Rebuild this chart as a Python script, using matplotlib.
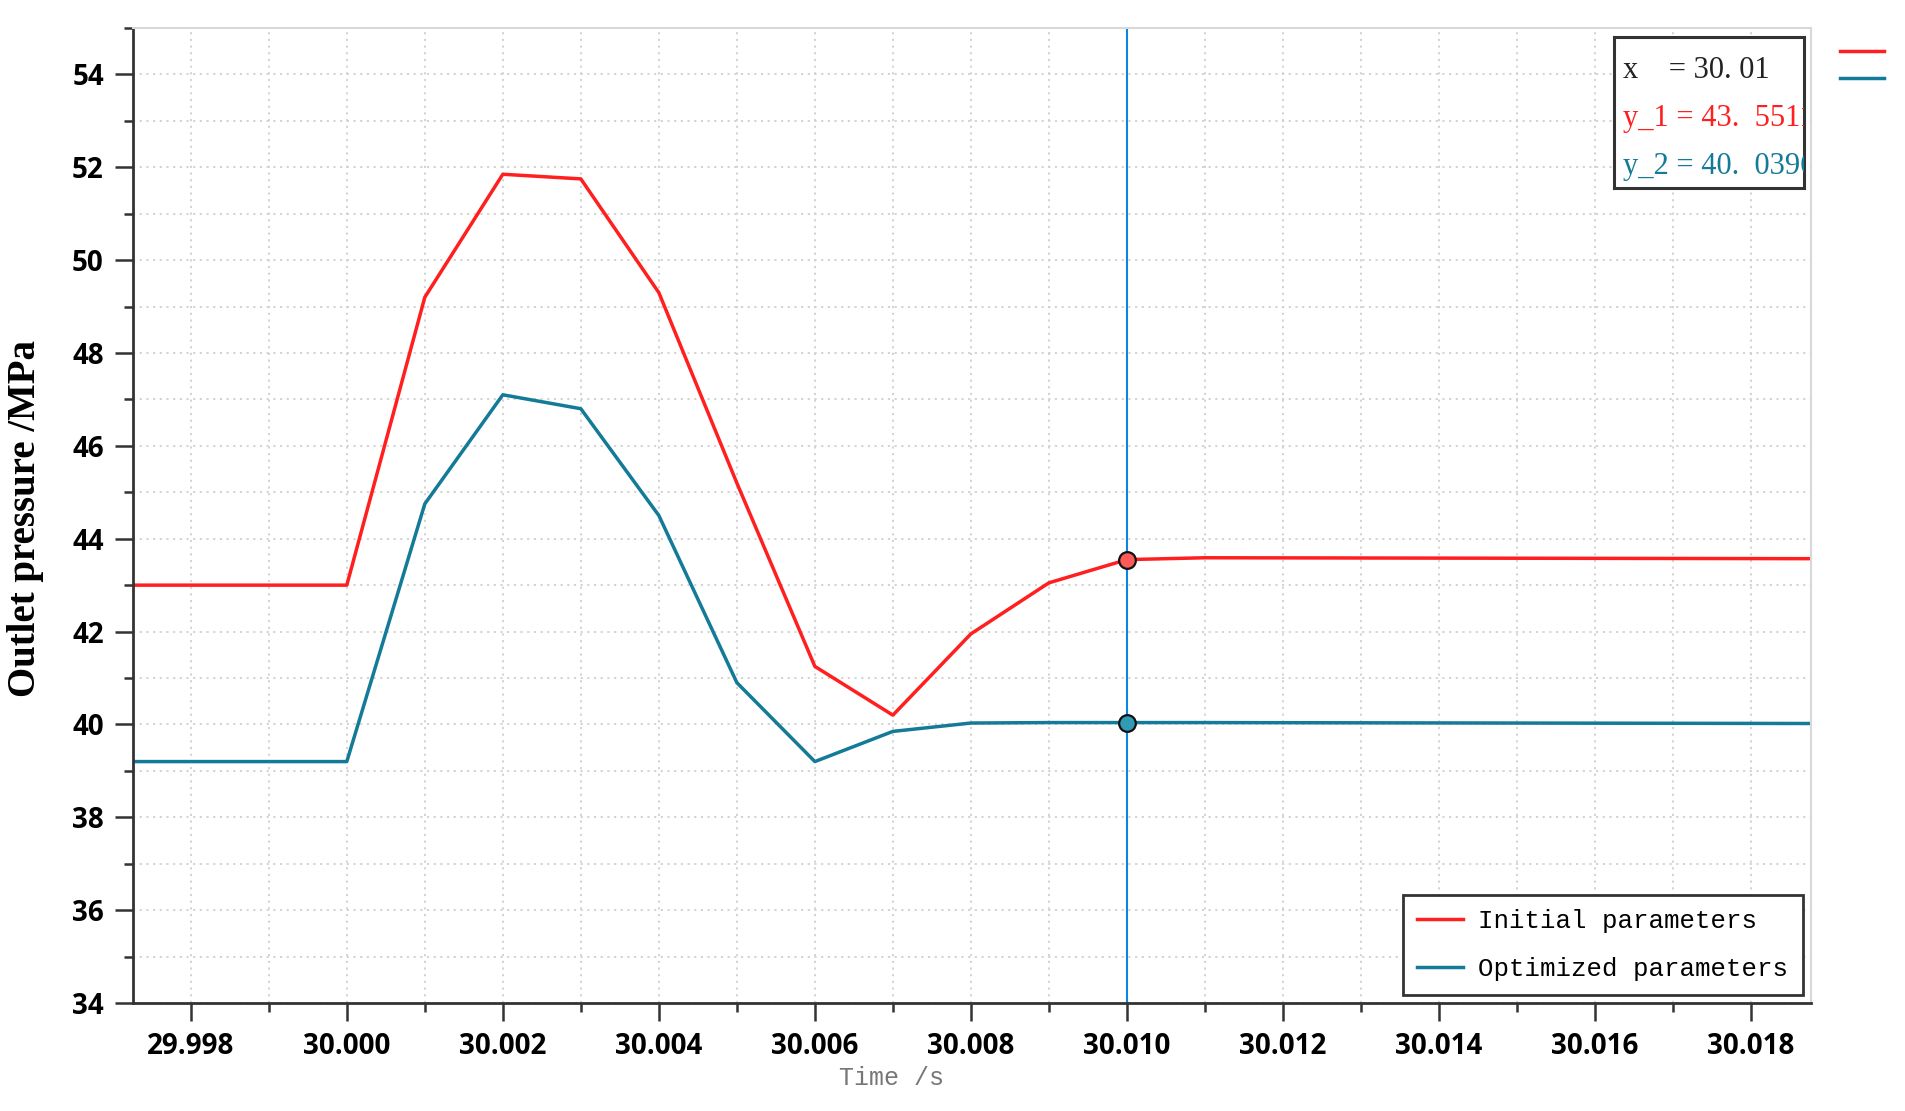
import matplotlib
matplotlib.use('Agg')
import matplotlib.pyplot as plt
from matplotlib.ticker import MultipleLocator, FormatStrFormatter
from matplotlib.lines import Line2D
import numpy as np

# data
t = [29.99726, 30.000, 30.001, 30.002, 30.003, 30.004, 30.005, 30.006, 30.007,
     30.008, 30.009, 30.010, 30.011, 30.0188]
p_initial = [43.0, 43.0, 49.2, 51.85, 51.75, 49.3, 45.2, 41.25, 40.2,
             41.95, 43.05, 43.55, 43.59, 43.57]
p_optimized = [39.2, 39.2, 44.75, 47.1, 46.8, 44.5, 40.9, 39.2, 39.85,
               40.03, 40.04, 40.04, 40.04, 40.02]
cursor_x = 30.010
cursor_y1 = 43.5511
cursor_y2 = 40.0396
labels = ['Initial parameters', 'Optimized parameters']
readout = ['x    = 30. 01', 'y_1 = 43.  5511', 'y_2 = 40.  0396']

red = '#ff1f1f'
teal = '#137a98'

fig = plt.figure(figsize=(19.06, 11.11), dpi=100)
ax = fig.add_axes([0.0698, 0.0972, 0.8804, 0.8776])

l1, = ax.plot(t, p_initial, color=red, lw=2.5, label=labels[0])
l2, = ax.plot(t, p_optimized, color=teal, lw=2.5, label=labels[1])
ax.axvline(cursor_x, color='#0a86e2', lw=1.5, zorder=1)
ax.plot([cursor_x], [cursor_y1], 'o', ms=12, mfc='#ff5a5a', mec='#111111', mew=1.6, zorder=5)
ax.plot([cursor_x], [cursor_y2], 'o', ms=12, mfc='#2f9bb5', mec='#111111', mew=1.6, zorder=5)

ax.set_xlim(29.99726, 30.01877)
ax.set_ylim(34, 55)
ax.xaxis.set_major_locator(MultipleLocator(0.002))
ax.xaxis.set_minor_locator(MultipleLocator(0.001))
ax.yaxis.set_major_locator(MultipleLocator(2))
ax.yaxis.set_minor_locator(MultipleLocator(1))
ax.xaxis.set_major_formatter(FormatStrFormatter('%.3f'))
ax.grid(True, which='both', color='#d0d0d0', linestyle=(0, (1.2, 2.5)), lw=1.3)
ax.set_axisbelow(True)

ax.tick_params(which='major', direction='out', length=13, width=1.8, color='#333333', pad=8)
ax.tick_params(which='minor', direction='out', length=6.5, width=1.8, color='#333333')
for lab in ax.get_xticklabels() + ax.get_yticklabels():
    lab.set_fontfamily('Open Sans')
    lab.set_fontweight('bold')
    lab.set_fontsize(20)

for s in ['left', 'bottom']:
    ax.spines[s].set_color('#333333')
    ax.spines[s].set_linewidth(2)
for s in ['top', 'right']:
    ax.spines[s].set_color('#d8d8d8')
    ax.spines[s].set_linewidth(1.5)

ax.set_ylabel('Outlet pressure /MPa', fontfamily='Liberation Serif', fontweight='bold', fontsize=28)
ax.yaxis.set_label_coords(-0.053, 0.497)
ax.text(0.452, -0.077, 'Time /s', transform=ax.transAxes, ha='center', va='center',
        fontfamily='Liberation Mono', fontsize=18, color='#777777')

leg = ax.legend(loc='lower right', bbox_to_anchor=(0.9995, 0.0), prop={'family': 'Liberation Mono', 'size': 18.5},
                frameon=True, fancybox=False, handlelength=1.8, handletextpad=0.6,
                borderpad=0.55, labelspacing=0.95, borderaxespad=0.3)
leg.get_frame().set_edgecolor('#333333')
leg.get_frame().set_linewidth(2)
leg.get_frame().set_alpha(1)

# cursor readout box (text clipped at the box edge)
bx = fig.add_axes([1614 / 1906, 1 - 188 / 1111, 190 / 1906, 151 / 1111])
bx.set_xticks([])
bx.set_yticks([])
for s in bx.spines.values():
    s.set_color('#333333')
    s.set_linewidth(2.2)
for i, (txt, c) in enumerate(zip(readout, ['#222222', red, teal])):
    bx.text(0.045, 0.78 - i * 0.32, txt, transform=bx.transAxes, ha='left', va='center',
            fontfamily='Liberation Serif', fontsize=22, color=c, clip_on=True)

# short series markers right of the plot
fig.legend([Line2D([], [], color=red, lw=2.5), Line2D([], [], color=teal, lw=2.5)], ['', ''],
           loc='upper left', bbox_to_anchor=(1830 / 1906, 1 - 33 / 1111), frameon=False,
           handlelength=2.3, handletextpad=0, labelspacing=0.4, borderpad=0, fontsize=14)

fig.savefig('out.png', dpi=100)
